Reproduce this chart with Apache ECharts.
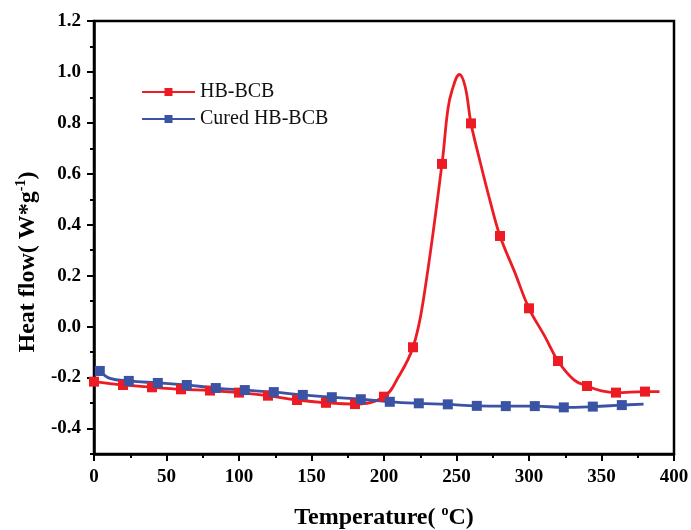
<!DOCTYPE html>
<html>
<head>
<meta charset="utf-8">
<script src="https://cdn.jsdelivr.net/npm/echarts@6/dist/echarts.min.js"></script>
<style>
  html, body { margin: 0; padding: 0; background: #fff; }
  #chart { width: 691px; height: 530px; }
</style>
</head>
<body>
<div id="chart"></div>
<script>
// DSC heat-flow curves: uncured vs cured HB-BCB
const seriesNames = ['HB-BCB', 'Cured HB-BCB'];

// HB-BCB: measured points drawn with square markers
const rawMarkTemp = [0, 20, 40, 60, 80, 100, 120, 140, 160, 180, 200, 220, 240, 260, 280, 300, 320, 340, 360, 380];
const rawMarkFlow = [-0.216, -0.229, -0.238, -0.246, -0.251, -0.259, -0.271, -0.288, -0.299, -0.304, -0.275, -0.081, 0.639, 0.798, 0.356, 0.072, -0.135, -0.233, -0.259, -0.255];
// HB-BCB: additional curve points between markers (exotherm shape)
const rawCurveTemp = [210, 227, 244, 247, 252, 256, 266, 273, 290, 311, 331, 350, 390];
const rawCurveFlow = [-0.197, 0.10, 0.851, 0.929, 0.990, 0.942, 0.654, 0.497, 0.216, -0.039, -0.209, -0.252, -0.255];

// Cured HB-BCB
const curedMarkTemp = [4, 24, 44, 64, 84, 104, 124, 144, 164, 184, 204, 224, 244, 264, 284, 304, 324, 344, 364];
const curedMarkFlow = [-0.174, -0.213, -0.221, -0.229, -0.241, -0.249, -0.257, -0.268, -0.277, -0.285, -0.295, -0.301, -0.305, -0.311, -0.312, -0.312, -0.317, -0.314, -0.308];
const curedCurveTemp = [11, 379];
const curedCurveFlow = [-0.203, -0.304];

// Axis ticks
const xTicks = [0, 50, 100, 150, 200, 250, 300, 350, 400];
const yMajorTicks = [-0.4, -0.2, 0.0, 0.2, 0.4, 0.6, 0.8, 1.0, 1.2];
const yMinorTicks = [-0.5, -0.3, -0.1, 0.1, 0.3, 0.5, 0.7, 0.9, 1.1];

function buildData(markT, markV, curveT, curveV) {
  const pts = [];
  markT.forEach((t, i) => pts.push({ value: [t, markV[i]] }));
  curveT.forEach((t, i) => pts.push({ value: [t, curveV[i]], symbol: 'none' }));
  pts.sort((a, b) => a.value[0] - b.value[0]);
  return pts;
}

const RED = '#ED1C24';
const BLUE = '#3A53A4';
const FONT = '"Liberation Serif", "Times New Roman", serif';

const chart = echarts.init(document.getElementById('chart'), null, { renderer: 'canvas' });

const yBase = {
  type: 'value',
  position: 'left',
  min: -0.5,
  max: 1.2,
  splitLine: { show: false }
};

const nameRich = {
  b: { fontFamily: FONT, fontWeight: 'bold', fontSize: 24, color: '#000' },
  s: { fontFamily: FONT, fontWeight: 'bold', fontSize: 14, color: '#000', verticalAlign: 'top', padding: [0, 0, 14, 0] }
};

chart.setOption({
  animation: false,
  backgroundColor: '#fff',
  grid: {
    left: 94, right: 17, top: 21, bottom: 76,
    outerBoundsMode: 'none', containLabel: false,
    show: true, borderColor: '#000', borderWidth: 2.5, backgroundColor: 'transparent'
  },
  legend: {
    left: 141, top: 81, orient: 'vertical', padding: 0,
    itemWidth: 53, itemHeight: 10, itemGap: 5,
    textStyle: { fontFamily: FONT, fontSize: 20, lineHeight: 22, color: '#111' },
    data: seriesNames
  },
  xAxis: {
    type: 'value', min: 0, max: 400, interval: 50,
    name: '{b|Temperature( }{s|o}{b|C)}',
    nameLocation: 'middle', nameGap: 50,
    nameTextStyle: { rich: nameRich },
    axisLine: { onZero: false, lineStyle: { color: '#000', width: 2.5 } },
    axisTick: { inside: false, length: 7, lineStyle: { color: '#000', width: 2 } },
    minorTick: { show: true, splitNumber: 2, length: 4, lineStyle: { color: '#000', width: 2 } },
    axisLabel: {
      margin: 14, fontFamily: FONT, fontWeight: 'bold', fontSize: 19, color: '#000',
      customValues: xTicks
    },
    splitLine: { show: false }, minorSplitLine: { show: false }
  },
  yAxis: [
    Object.assign({}, yBase, {
      name: '{b|Heat flow( W*g}{s|-1}{b|)}',
      nameLocation: 'middle', nameGap: 52, nameRotate: 90,
      nameTextStyle: { rich: nameRich, padding: [0, 49, 0, 0] },
      axisLine: { show: true, onZero: false, lineStyle: { color: '#000', width: 2.5 } },
      axisTick: { show: true, inside: false, length: 7, customValues: yMajorTicks, lineStyle: { color: '#000', width: 2 } },
      axisLabel: {
        margin: 13, fontFamily: FONT, fontWeight: 'bold', fontSize: 19, color: '#000',
        customValues: yMajorTicks,
        formatter: v => v.toFixed(1)
      }
    }),
    Object.assign({}, yBase, {
      axisLine: { show: false },
      axisTick: { show: true, inside: false, length: 4, customValues: yMinorTicks, lineStyle: { color: '#000', width: 2 } },
      axisLabel: { show: false }
    })
  ],
  series: [
    {
      name: seriesNames[0], type: 'line', yAxisIndex: 0,
      data: buildData(rawMarkTemp, rawMarkFlow, rawCurveTemp, rawCurveFlow),
      smooth: 0.4,
      symbol: 'rect', symbolSize: 10, showAllSymbol: true,
      lineStyle: { color: RED, width: 2.8 },
      itemStyle: { color: RED },
      clip: false
    },
    {
      name: seriesNames[1], type: 'line', yAxisIndex: 0,
      data: buildData(curedMarkTemp, curedMarkFlow, curedCurveTemp, curedCurveFlow),
      smooth: 0.4,
      symbol: 'rect', symbolSize: 10, showAllSymbol: true,
      lineStyle: { color: BLUE, width: 2.8 },
      itemStyle: { color: BLUE },
      clip: false
    }
  ]
});
</script>
</body>
</html>
